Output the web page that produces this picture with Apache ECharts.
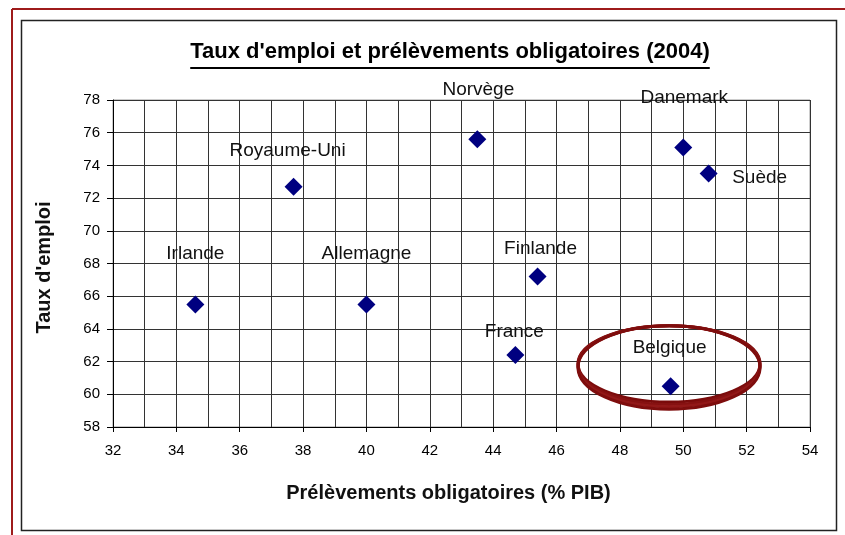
<!DOCTYPE html>
<html>
<head>
<meta charset="utf-8">
<script src="https://cdn.jsdelivr.net/npm/echarts@6/dist/echarts.min.js"></script>
<style>
  html, body { margin: 0; padding: 0; background: #fff; }
  #main { width: 845px; height: 535px; }
</style>
</head>
<body>
<div id="main"></div>
<script>
// données
var pays = ['Irlande', 'Royaume-Uni', 'Allemagne', 'Norvège', 'France', 'Finlande', 'Belgique', 'Danemark', 'Suède'];
var prelevements = [34.6, 37.7, 40.0, 43.5, 44.7, 45.4, 49.6, 50.0, 50.8];
var tauxEmploi = [65.5, 72.7, 65.5, 75.6, 62.4, 67.2, 60.5, 75.1, 73.5];

// axes
var xMin = 32, xMax = 54, xPas = 2;
var yMin = 58, yMax = 78, yPas = 2;

var titre = "Taux d'emploi et prélèvements obligatoires (2004)";
var titreX = 'Prélèvements obligatoires (% PIB)';
var titreY = "Taux d'emploi";

// décalage des étiquettes par rapport au point
var decalages = {
    'Irlande': [0, -51],
    'Royaume-Uni': [-6, -36],
    'Allemagne': [0, -51],
    'Norvège': [1, -49],
    'France': [-1, -23],
    'Finlande': [3, -28],
    'Belgique': [-1, -38],
    'Danemark': [1, -50],
    'Suède': [51, 4]
};

var police = '"Liberation Sans", Arial, sans-serif';

function largeurTexte(txt, font) {
    var ctx = document.createElement('canvas').getContext('2d');
    ctx.font = font;
    return ctx.measureText(txt).width;
}

var points = pays.map(function (p, i) {
    return {
        name: p,
        value: [prelevements[i], tauxEmploi[i]],
        label: { offset: decalages[p] }
    };
});

var myChart = echarts.init(document.getElementById('main'));

var tailleTitre = 22;
var largeurTitre = largeurTexte(titre, 'bold ' + tailleTitre + 'px ' + police);
var centreTitre = 450;

var option = {
    animation: false,
    backgroundColor: '#fff',
    title: {
        text: titre,
        left: centreTitre - largeurTitre / 2,
        top: 41,
        padding: 0,
        textStyle: { fontFamily: police, fontSize: tailleTitre, fontWeight: 'bold', color: '#000' }
    },
    grid: {
        left: 113, right: 35, top: 100, bottom: 108,
        show: true, borderColor: '#999', borderWidth: 1, backgroundColor: '#fff'
    },
    xAxis: {
        type: 'value',
        min: xMin, max: xMax, interval: xPas,
        name: titreX,
        nameLocation: 'middle',
        nameGap: 56,
        nameTextStyle: { fontFamily: police, fontSize: 20, fontWeight: 'bold', color: '#111', padding: [0, 26, 0, 0] },
        axisLine: { show: true, onZero: false, lineStyle: { color: '#000', width: 1 } },
        axisTick: { show: true, length: 5, lineStyle: { color: '#000' } },
        axisLabel: { margin: 16, fontSize: 15, color: '#000', fontFamily: police },
        splitLine: { show: true, lineStyle: { color: '#333', width: 1 } },
        minorTick: { show: false, splitNumber: 2 },
        minorSplitLine: { show: true, lineStyle: { color: '#333', width: 1 } }
    },
    yAxis: {
        type: 'value',
        min: yMin, max: yMax, interval: yPas,
        name: titreY,
        nameLocation: 'middle',
        nameGap: 59,
        nameTextStyle: { fontFamily: police, fontSize: 20, fontWeight: 'bold', color: '#111', padding: [0, 8, 0, 0] },
        axisLine: { show: true, onZero: false, lineStyle: { color: '#000', width: 1 } },
        axisTick: { show: true, length: 6, lineStyle: { color: '#000' } },
        axisLabel: { margin: 13, fontSize: 15, color: '#000', fontFamily: police },
        splitLine: { show: true, lineStyle: { color: '#333', width: 1 } }
    },
    series: [{
        type: 'scatter',
        symbol: 'diamond',
        symbolSize: 18,
        itemStyle: { color: '#000080', opacity: 1 },
        label: {
            show: true,
            position: 'inside',
            formatter: '{b}',
            fontFamily: police,
            fontSize: 19,
            color: '#111'
        },
        data: points
    }]
};

myChart.setOption(option);

// cadre, soulignement du titre et ellipse autour de la Belgique
var haut = myChart.convertToPixel({ gridIndex: 0 }, [49.55, 64.2]);
var ellipses = [];
var teintes = ['#7a0b0b', '#861111', '#921818', '#7e0d0d'];
var rys = [38.2, 39.4, 40.6, 41.8];
for (var k = 0; k < rys.length; k++) {
    ellipses.push({
        type: 'ellipse',
        z: 100,
        shape: { cx: haut[0], cy: haut[1] + rys[k], rx: 91, ry: rys[k] },
        style: { fill: 'none', stroke: teintes[k], lineWidth: 3 },
        silent: true
    });
}

myChart.setOption({
    graphic: {
        elements: [
            { type: 'line', shape: { x1: 12, y1: 9, x2: 845, y2: 9 }, style: { stroke: '#9e1b1b', lineWidth: 2 }, silent: true },
            { type: 'line', shape: { x1: 12, y1: 9, x2: 12, y2: 535 }, style: { stroke: '#9e1b1b', lineWidth: 2 }, silent: true },
            { type: 'rect', shape: { x: 21.5, y: 20.5, width: 815, height: 510 }, style: { fill: 'none', stroke: '#222', lineWidth: 1.5 }, silent: true },
            { type: 'line', shape: { x1: centreTitre - largeurTitre / 2, y1: 68, x2: centreTitre + largeurTitre / 2, y2: 68 }, style: { stroke: '#000', lineWidth: 2 }, silent: true }
        ].concat(ellipses)
    }
});
</script>
</body>
</html>
